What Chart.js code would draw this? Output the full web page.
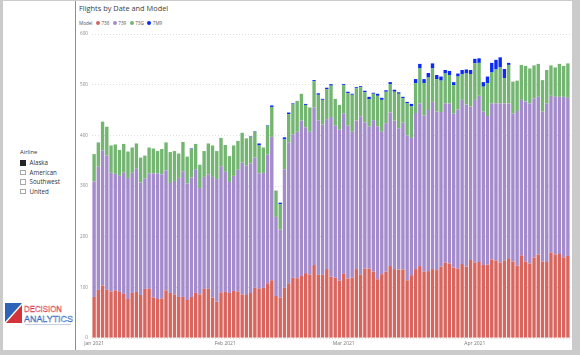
<!DOCTYPE html>
<html><head><meta charset="utf-8">
<script src="https://cdn.jsdelivr.net/npm/chart.js@4.4.0/dist/chart.umd.min.js"></script>
<style>
html,body{margin:0;padding:0;}
body{width:580px;height:355px;background:#cbcbcb;position:relative;overflow:hidden;font-family:"Open Sans","Noto Sans",sans-serif;}
#left{position:absolute;left:3px;top:1px;width:72px;height:349px;background:#fff;}
#divider{position:absolute;left:75px;top:1px;width:1px;height:349px;background:#8e8e8e;}
#main{position:absolute;left:76px;top:1px;width:496px;height:349px;background:#fff;}
#chartBox{position:absolute;left:76px;top:0px;width:496px;height:350px;}
#title{position:absolute;left:79px;top:3px;font-size:7.4px;color:#404040;white-space:nowrap;}
#legend{position:absolute;left:79px;top:20px;font-size:4.6px;color:#555;white-space:nowrap;display:flex;align-items:center;}
#legend .it{display:inline-flex;align-items:center;margin-left:3.5px;}
#legend .dot{width:4px;height:4px;border-radius:50%;display:inline-block;margin-right:1.5px;}
#slicer{position:absolute;left:20px;top:148px;font-size:6.2px;color:#333;}
#slicer .hd{margin-bottom:2px;font-size:5.8px;}
#slicer .row{display:flex;align-items:center;height:9.5px;}
#slicer .box{width:5.5px;height:5.5px;border:0.7px solid #a8a8a8;box-sizing:border-box;margin-right:4px;}
#slicer .box.on{background:#252525;border-color:#252525;}
#logo{position:absolute;left:5px;top:302px;}
</style></head>
<body>
<div id="left"></div>
<div id="main"></div>
<div id="divider"></div>
<div id="title">Flights by Date and Model</div>
<div id="legend"></div>
<div id="slicer"></div>
<svg id="logo" width="70" height="26" viewBox="0 0 70 26">
  <polygon points="0,1 17,1 0,20" fill="#2e63b8"/>
  <polygon points="17,3 17,21 1,21" fill="#d3343c"/>
  <text x="19" y="10" font-family="Liberation Sans, Arial, sans-serif" font-size="9.5" fill="#fff" stroke="#d3343c" stroke-width="0.45" textLength="38" lengthAdjust="spacingAndGlyphs">DECISION</text>
  <text x="19" y="19.5" font-family="Liberation Sans, Arial, sans-serif" font-size="9.5" fill="#fff" stroke="#2e63b8" stroke-width="0.45" textLength="49" lengthAdjust="spacingAndGlyphs">ANALYTICS</text>
  <line x1="20" y1="22.5" x2="66" y2="22.5" stroke="#b8c4dc" stroke-width="0.8"/>
</svg>
<div id="chartBox"><canvas id="c" width="496" height="350"></canvas></div>
<script>
// ---- data ----
const categories = [
'1/1','1/2','1/3','1/4','1/5','1/6','1/7','1/8','1/9','1/10','1/11','1/12','1/13','1/14','1/15','1/16','1/17','1/18','1/19','1/20','1/21','1/22','1/23','1/24','1/25','1/26','1/27','1/28','1/29','1/30','1/31',
'2/1','2/2','2/3','2/4','2/5','2/6','2/7','2/8','2/9','2/10','2/11','2/12','2/13','2/14','2/15','2/16','2/17','2/18','2/19','2/20','2/21','2/22','2/23','2/24','2/25','2/26','2/27','2/28',
'3/1','3/2','3/3','3/4','3/5','3/6','3/7','3/8','3/9','3/10','3/11','3/12','3/13','3/14','3/15','3/16','3/17','3/18','3/19','3/20','3/21','3/22','3/23','3/24','3/25','3/26','3/27','3/28','3/29','3/30','3/31',
'4/1','4/2','4/3','4/4','4/5','4/6','4/7','4/8','4/9','4/10','4/11','4/12','4/13','4/14','4/15','4/16','4/17','4/18','4/19','4/20','4/21','4/22','4/23'];
const tickCategories = ['1/1','2/1','3/1','4/1'];
const tickLabels = ['Jan 2021','Feb 2021','Mar 2021','Apr 2021'];
const yTicks = [0,100,200,300,400,500,600];
const seriesNames = ['738','739','73G','7M9'];
const s738 = [81,95,103,95,92,94,91,87,77,89, 91,85,97,97,80,77,78,94,89,86, 81,81,75,81,89,86,97,97,80,72,
  90,91,89,93,92,86,85,89,99,97, 99,108,114,83,80,99,108,119,118,123, 128,125,144,125,125,136,121,119,113,127,
  117,119,136,125,137,137,131,116,126,131, 142,136,135,135,114,124,136,142,131,132, 136,134,141,149,147,139,137,146,141,154,
  149,150,144,145,155,153,149,153,156,151, 143,163,151,147,159,165,151,150,169,165, 166,159,162];
const s739 = [228,243,267,265,234,230,229,240,239,237, 243,222,218,228,245,248,245,237,217,224, 235,248,230,236,244,210,221,226,238,242,
  249,237,219,227,240,260,255,256,257,228, 227,254,283,156,134,234,278,283,289,306, 288,282,311,305,296,296,315,300,298,316,
  302,288,293,312,288,280,299,302,281,293, 303,293,279,290,286,271,308,321,308,318, 330,313,305,314,316,304,314,324,320,303,
  321,328,303,293,308,310,314,310,307,292, 305,307,316,316,314,311,296,313,309,311, 310,317,312];
const s73G = [54,48,57,57,54,58,51,56,52,50, 50,49,45,51,49,44,50,55,61,59, 48,58,53,56,50,46,51,61,62,55,
  56,53,51,60,57,59,54,52,51,55, 50,57,59,52,50,59,56,59,61,53, 44,48,52,50,49,59,62,53,49,56,
  64,73,64,58,60,54,52,60,63,62, 56,57,68,48,63,62,59,69,64,64, 66,64,62,59,56,56,65,51,61,64,
  72,65,49,65,61,67,71,50,76,63, 60,69,70,69,65,65,62,66,60,58, 65,61,68];
const s7M9 = [0,0,0,0,0,0,0,0,0,0, 0,0,0,0,0,0,0,0,0,0, 0,0,0,1,0,0,0,0,0,0,
  0,0,0,0,0,0,0,1,1,4, 0,1,3,0,3,4,3,2,0,0, 2,0,2,3,2,3,3,0,0,2,
  3,2,2,2,3,5,2,4,4,3, 4,4,3,3,3,5,8,9,8,9, 10,8,8,7,8,6,6,8,8,8,
  9,9,9,13,19,19,20,18,4,0, 0,0,0,0,0,0,0,0,0,0, 0,0,0];
const seriesColors = ['#d8665f','#a48bcb','#74b671','#0b2bf5'];
const airlines = ['Alaska','American','Southwest','United'];
const airlineSelected = ['Alaska'];
const legendTitle = 'Model';
const slicerTitle = 'Airline';
// ---- html legend & slicer ----
const lg = document.getElementById('legend');
lg.innerHTML = '<span>'+legendTitle+'</span>' + seriesNames.map((n,i)=>'<span class="it"><span class="dot" style="background:'+seriesColors[i]+'"></span>'+n+'</span>').join('');
const sl = document.getElementById('slicer');
sl.innerHTML = '<div class="hd">'+slicerTitle+'</div>' + airlines.map(a=>'<div class="row"><span class="box'+(airlineSelected.includes(a)?' on':'')+'"></span>'+a+'</div>').join('');
// ---- chart ----
const FONT = '"Open Sans","Noto Sans",sans-serif';
const values = [s738,s739,s73G,s7M9];
new Chart(document.getElementById('c'), {
  type:'bar',
  data:{labels:categories, datasets:seriesNames.map((n,i)=>({label:n,data:values[i],backgroundColor:seriesColors[i],borderWidth:0,barPercentage:0.8,categoryPercentage:1.0}))},
  options:{
    responsive:false, animation:false,
    layout:{padding:{top:34,right:2,left:0,bottom:0}},
    plugins:{legend:{display:false},title:{display:false},tooltip:{enabled:false}},
    scales:{
      x:{stacked:true, grid:{display:false,drawTicks:false}, border:{display:false},
        ticks:{autoSkip:false,maxRotation:0,minRotation:0,padding:3,color:'#777',font:{family:FONT,size:5},
          callback:(v,i)=>{const j=tickCategories.indexOf(categories[i]);return j>=0?tickLabels[j]:'';}},
        afterFit:s=>{s.height=12;}},
      y:{stacked:true,min:yTicks[0],max:yTicks[yTicks.length-1],
        afterBuildTicks:s=>{s.ticks=yTicks.map(v=>({value:v}));},
        ticks:{padding:4,color:'#888',font:{family:FONT,size:4.6}},
        grid:{color:'#d6d6d6',lineWidth:0.8,drawTicks:false},
        border:{display:false,dash:[1,2]},
        afterFit:s=>{s.width=16;}}
    }
  }
});
</script>
</body></html>
